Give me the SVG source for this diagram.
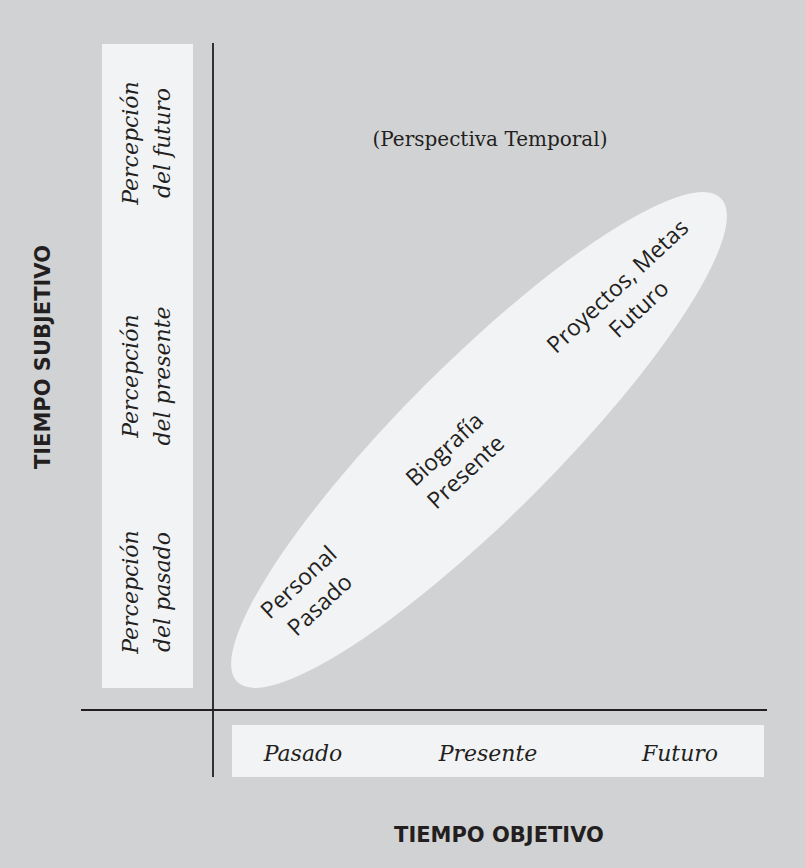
<svg xmlns="http://www.w3.org/2000/svg" width="805" height="868" viewBox="0 0 805 868">
<style>
.panel{fill:#f2f3f5}
.axis{stroke:#231f20;stroke-width:1.8;fill:none}
.it{font-family:"DejaVu Serif","Liberation Serif",serif;font-style:italic;font-size:22px;fill:#231f20;text-anchor:middle}
.reg{font-family:"DejaVu Serif","Liberation Serif",serif;font-size:20px;fill:#231f20;text-anchor:middle}
.ttl{font-family:"DejaVu Sans","Liberation Sans",sans-serif;font-weight:bold;font-size:21px;fill:#231f20;text-anchor:middle}
.el{font-family:"Open Sans","DejaVu Sans",sans-serif;font-weight:400;font-size:23px;fill:#231f20;text-anchor:middle}
</style>
<rect x="0" y="0" width="805" height="868" fill="#d1d2d4"/>
<g id="subjective-panel">
<rect class="panel" x="102" y="44" width="91" height="644"/>
<text class="it" transform="translate(138,143) rotate(-90)"><tspan x="0" y="0">Percepción</tspan><tspan x="0" y="32">del futuro</tspan></text>
<text class="it" transform="translate(138,376) rotate(-90)"><tspan x="0" y="0">Percepción</tspan><tspan x="0" y="32">del presente</tspan></text>
<text class="it" transform="translate(138,592) rotate(-90)"><tspan x="0" y="0">Percepción</tspan><tspan x="0" y="32">del pasado</tspan></text>
</g>
<g id="objective-panel">
<rect class="panel" x="232" y="725" width="532" height="52"/>
<text class="it" x="303" y="761">Pasado</text>
<text class="it" x="488" y="761">Presente</text>
<text class="it" x="680" y="761">Futuro</text>
</g>
<g id="connectors">
<line class="axis" x1="213" y1="43" x2="213" y2="777"/>
<line class="axis" x1="81" y1="710" x2="767" y2="710"/>
</g>
<g id="perspective">
<ellipse class="panel" cx="479" cy="440" rx="342" ry="77" transform="rotate(-45 479 440)"/>
<text class="el" transform="translate(304,588) rotate(-43)"><tspan x="0" y="0">Personal</tspan><tspan x="0" y="31">Pasado</tspan></text>
<text class="el" transform="translate(450,455) rotate(-43)"><tspan x="0" y="0">Biografía</tspan><tspan x="0" y="31">Presente</tspan></text>
<text class="el" transform="translate(623,292) rotate(-43)"><tspan x="0" y="0">Proyectos, Metas</tspan><tspan x="0" y="31">Futuro</tspan></text>
</g>
<g id="labels">
<text class="reg" x="490" y="146">(Perspectiva Temporal)</text>
<text class="ttl" transform="translate(50,357) rotate(-90)">TIEMPO SUBJETIVO</text>
<text class="ttl" x="499" y="842">TIEMPO OBJETIVO</text>
</g>
</svg>
